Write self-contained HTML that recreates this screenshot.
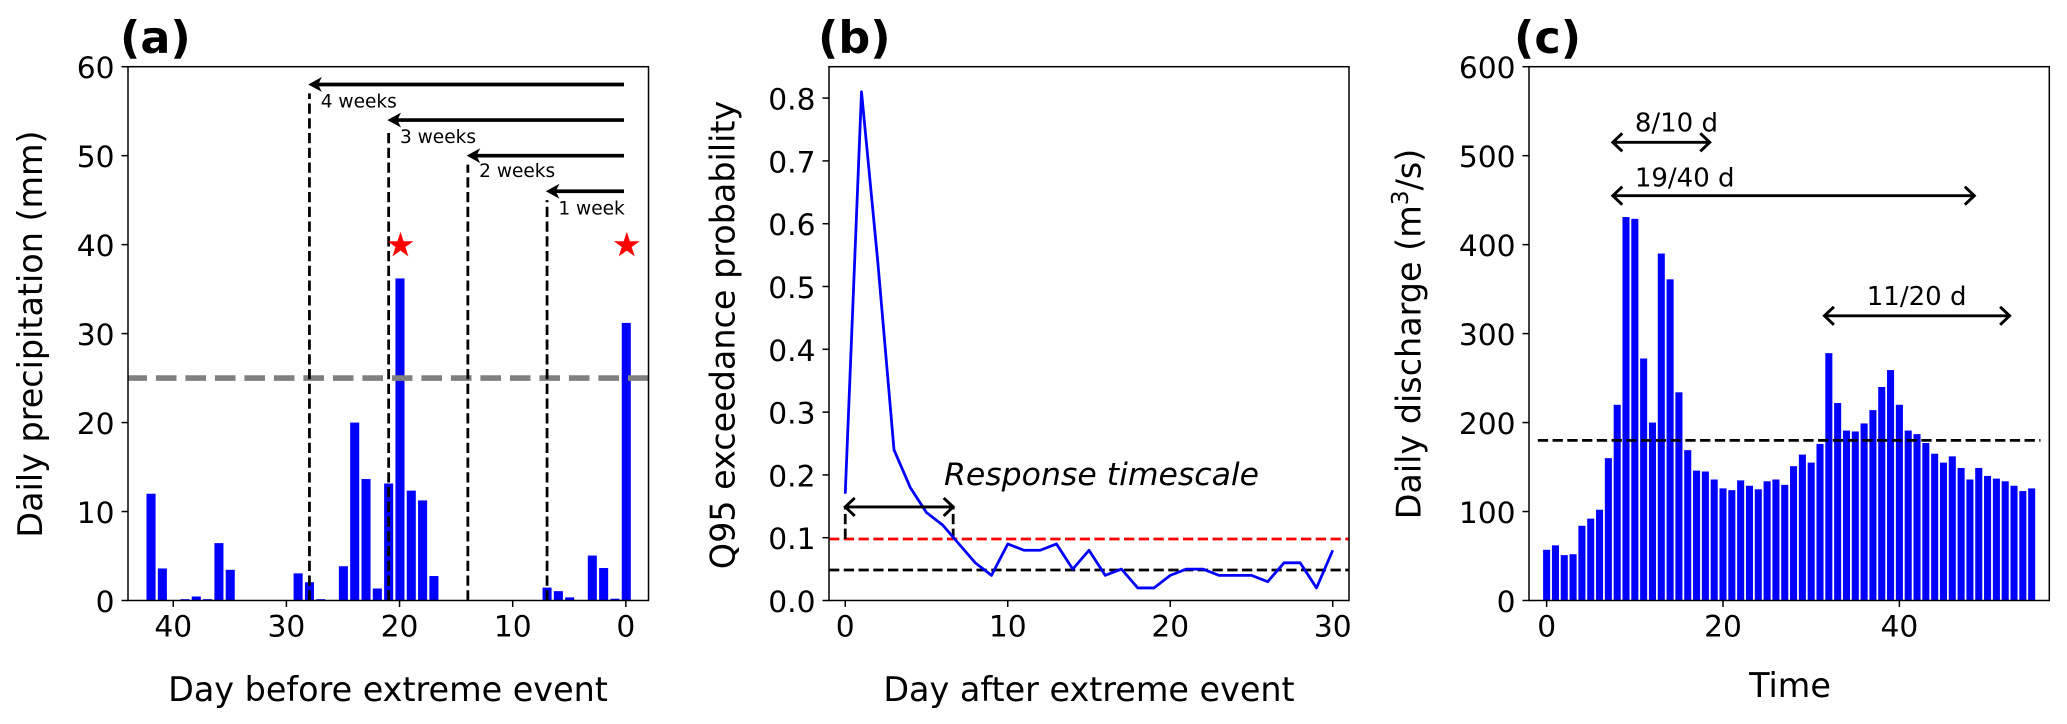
<!DOCTYPE html>
<html lang="en">
<head>
<meta charset="utf-8">
<title>Precipitation, exceedance probability and discharge</title>
<style>
html,body{margin:0;padding:0;background:#fff;width:2067px;height:724px;overflow:hidden}
svg{display:block}
text{font-family:"DejaVu Sans","Liberation Sans",sans-serif;fill:#000}
.tick{font-size:29.7px}
.axis-title{font-size:33.4px;text-anchor:middle}
.panel-title{font-size:44.5px;font-weight:bold}
</style>
</head>
<body>
<svg id="fig" xmlns="http://www.w3.org/2000/svg" width="2067" height="724" viewBox="0 0 2067 724">
  <rect x="0" y="0" width="2067" height="724" fill="#fff"/>
  <g id="panel-a"></g>
  <g id="panel-b"></g>
  <g id="panel-c"></g>

  <text class="panel-title" x="120" y="53">(a)</text>
  <text class="panel-title" x="818" y="53">(b)</text>
  <text class="panel-title" x="1514" y="53">(c)</text>

  <text class="axis-title" x="388" y="701">Day before extreme event</text>
  <text class="axis-title" transform="translate(42 334) rotate(-90)">Daily precipitation (mm)</text>
  <text class="axis-title" x="1089" y="701">Day after extreme event</text>
  <text class="axis-title" transform="translate(734.3 335) rotate(-90)">Q95 exceedance probability</text>
  <text class="axis-title" x="1790" y="697">Time</text>
  <text class="axis-title" transform="translate(1420.7 334) rotate(-90)">Daily discharge (m<tspan font-size="23.4" dy="-12.5">3</tspan><tspan dy="12.5">/s)</tspan></text>
</svg>
<script>
// ---------- Panel (a) data ----------
const precipDays = [42,41,39,38,37,36,35,29,28,27,25,24,23,22,21,20,19,18,17,7,6,5,3,2,1,0];
const precipValues = [12,3.6,0.15,0.45,0.15,6.45,3.45,3.05,2.05,0.15,3.85,20,13.65,1.35,13.15,36.2,12.35,11.25,2.75,1.45,1.05,0.35,5.05,3.65,0.2,31.2];
const precipThreshold = [25];
const extremeDays = [20,0];
const extremeMarkerLevel = [40,40];
const windowDays = [28,21,14,7];
const windowLevels = [58,54,50,46];
const windowLabelLevels = [55.4,51.4,47.6,43.4];
const windowLabels = ["4 weeks","3 weeks","2 weeks","1 week"];
const aXTicks = [40,30,20,10,0];
const aYTicks = [0,10,20,30,40,50,60];

// ---------- Panel (b) data ----------
const exceedDays = [0,1,2,3,4,5,6,7,8,9,10,11,12,13,14,15,16,17,18,19,20,21,22,23,24,25,26,27,28,29,30];
const exceedValues = [0.17,0.81,0.54,0.24,0.18,0.14,0.12,0.09,0.06,0.04,0.09,0.08,0.08,0.09,0.05,0.08,0.04,0.05,0.02,0.02,0.04,0.05,0.05,0.04,0.04,0.04,0.03,0.06,0.06,0.02,0.08];
const redThreshold = [0.098];
const blackThreshold = [0.0485];
const responseSpan = [0,6.64];
const responseLevel = [0.149];
const bXTicks = [0,10,20,30];
const bYTicks = [0,0.1,0.2,0.3,0.4,0.5,0.6,0.7,0.8];

// ---------- Panel (c) data ----------
const dischargeValues = [57,62,51,52,84,92,102,160,220,431,429,272,200,390,361,234,169,146,145,136,126,124,135,129,125,134,136,130,151,164,155,176,278,222,191,190,199,214,240,259,220,191,187,177,165,155,162,149,136,149,140,137,134,129,123,126];
const dischargeThreshold = [180];
const thresholdSpan = [-1,56];
const spanStarts = [7.5,7.5,31.5];
const spanEnds = [18.5,48.5,52.5];
const spanLabels = ["8/10 d","19/40 d","11/20 d"];
const spanLevels = [515,455,320];
const spanLabelDays = [10,10,36.3];
const spanLabelLevels = [527,465.6,332];
const cXTicks = [0,20,40];
const cYTicks = [0,100,200,300,400,500,600];

// ---------- Axis functions ----------
const TOP = 66.7, BOTTOM = 600.5;
function linear(d0, d1, r0, r1){ return v => r0 + (v - d0) * (r1 - r0) / (d1 - d0); }
const ax = linear(44, -2, 128.4, 648.9);
const ay = linear(0, 60, BOTTOM, TOP);
const bx = linear(-1, 31, 829, 1349);
const by = linear(0, 0.85, BOTTOM, TOP);
const cx = linear(-2, 57, 1529, 2049.3);
const cy = linear(0, 600, BOTTOM, TOP);

const NS = 'http://www.w3.org/2000/svg';
const DASH = '10.3 4.45';
function make(tag, attrs, parent){
  const el = document.createElementNS(NS, tag);
  for (const k in attrs) el.setAttribute(k, attrs[k]);
  parent.appendChild(el);
  return el;
}
function hline(parent, x1, x2, y, color, w, dash){
  return make('line', {x1:x1, x2:x2, y1:y, y2:y, stroke:color, 'stroke-width':w, 'stroke-dasharray':dash}, parent);
}
function starPoints(x, y, r){
  const pts = [];
  for (let i = 0; i < 10; i++){
    const rad = i % 2 ? r * 0.382 : r;
    const t = -Math.PI / 2 + i * Math.PI / 5;
    pts.push((x + rad * Math.cos(t)).toFixed(1) + ',' + (y + rad * Math.sin(t)).toFixed(1));
  }
  return pts.join(' ');
}
function doubleArrow(parent, x1, x2, y){
  const d = 'M' + x1 + ' ' + y + 'L' + x2 + ' ' + y +
    'M' + (x1 + 9.5) + ' ' + (y - 9) + 'L' + x1 + ' ' + y + 'L' + (x1 + 9.5) + ' ' + (y + 9) +
    'M' + (x2 - 9.5) + ' ' + (y - 9) + 'L' + x2 + ' ' + y + 'L' + (x2 - 9.5) + ' ' + (y + 9);
  return make('path', {d:d, fill:'none', stroke:'#000', 'stroke-width':2.9}, parent);
}
function drawFrame(parent, left, right, xScale, yScale, xTicks, yTicks, yFormat){
  xTicks.forEach(v => {
    const x = xScale(v);
    const t = make('line', {x1:x, x2:x, y1:BOTTOM, y2:BOTTOM + 6.5, stroke:'#000', 'stroke-width':1.5}, parent);
    
    
    const l = make('text', {x:x, y:636.5, 'text-anchor':'middle', class:'tick'}, parent);
    l.textContent = String(v);
    
    
  });
  yTicks.forEach(v => {
    const y = yScale(v);
    const t = make('line', {x1:left - 6.5, x2:left, y1:y, y2:y, stroke:'#000', 'stroke-width':1.5}, parent);
    
    
    const l = make('text', {x:left - 13.5, y:y + 11.5, 'text-anchor':'end', class:'tick'}, parent);
    l.textContent = yFormat(v);
    
    
  });
  const box = make('rect', {x:left, y:TOP, width:right - left, height:BOTTOM - TOP, fill:'none', stroke:'#000', 'stroke-width':1.5}, parent);
  
  
}

// ---------- Panel (a) ----------
const gA = document.getElementById('panel-a');
precipDays.forEach((d, i) => {
  const w = Math.abs(ax(0.8) - ax(0));
  const top = ay(precipValues[i]);
  const bar = make('rect', {x:ax(d) - w / 2, y:top, width:w, height:ay(0) - top, fill:'#0000ff'}, gA);
  
  
});
const greyLine = hline(gA, 648.5, 128, ay(precipThreshold[0]), '#808080', 5.56, '20.6 8.9');


windowDays.forEach((d, i) => {
  const x = ax(d);
  const y = ay(windowLevels[i]);
  const drop = make('line', {x1:x, x2:x, y1:ay(0), y2:ay(windowLevels[i] - 1), stroke:'#000', 'stroke-width':2.78, 'stroke-dasharray':DASH}, gA);
  
  
  const shaft = make('line', {x1:ax(0.2), x2:x + 8, y1:y, y2:y, stroke:'#000', 'stroke-width':3.7}, gA);
  
  
  const head = make('polygon', {points:x + ',' + y + ' ' + (x + 11) + ',' + (y - 6) + ' ' + (x + 8) + ',' + y + ' ' + (x + 11) + ',' + (y + 6), fill:'#000', stroke:'#000', 'stroke-width':1.2}, gA);
  
  
  const label = make('text', {x:ax(d - 1), y:ay(windowLabelLevels[i]), 'font-size':18.55}, gA);
  label.textContent = windowLabels[i];
  
  
});
extremeDays.forEach((d, i) => {
  const star = make('polygon', {points:starPoints(ax(d) + 0.5, ay(extremeMarkerLevel[i]) + 0.8, 12), fill:'#ff0000', stroke:'#ff0000', 'stroke-width':1}, gA);
  
  
});
drawFrame(gA, 128, 648.5, linear(44, -2, 128, 648.5), ay, aXTicks, aYTicks, v => String(v));

// ---------- Panel (b) ----------
const gB = document.getElementById('panel-b');
const redLine = hline(gB, 829, 1349, by(redThreshold[0]), '#ff0000', 2.78, DASH);


const blackLine = hline(gB, 829, 1349, by(blackThreshold[0]), '#000', 2.78, DASH);


responseSpan.forEach(d => {
  const guide = make('line', {x1:bx(d), x2:bx(d), y1:by(redThreshold[0]), y2:by(responseLevel[0]), stroke:'#000', 'stroke-width':2.78, 'stroke-dasharray':DASH}, gB);
  
  
});
const exceedLine = make('polyline', {points:exceedDays.map((d, i) => bx(d).toFixed(2) + ',' + by(exceedValues[i]).toFixed(2)).join(' '), fill:'none', stroke:'#0000ff', 'stroke-width':2.78, 'stroke-linejoin':'round'}, gB);


const responseArrow = doubleArrow(gB, bx(responseSpan[0]), bx(responseSpan[1]), by(responseLevel[0]));


const responseText = make('text', {x:944, y:484.8, 'font-size':31.5, 'font-style':'italic'}, gB);
responseText.textContent = 'Response timescale';


drawFrame(gB, 829, 1349, bx, by, bXTicks, bYTicks, v => v.toFixed(1));

// ---------- Panel (c) ----------
const gC = document.getElementById('panel-c');
dischargeValues.forEach((v, i) => {
  const w = cx(0.8) - cx(0);
  const top = cy(v);
  const bar = make('rect', {x:cx(i) - w / 2, y:top, width:w, height:cy(0) - top, fill:'#0000ff'}, gC);
  
  
});
const cLine = hline(gC, cx(thresholdSpan[0]), cx(thresholdSpan[1]), cy(dischargeThreshold[0]), '#000', 2.78, DASH);


spanLevels.forEach((level, i) => {
  const arrow = doubleArrow(gC, cx(spanStarts[i]), cx(spanEnds[i]), cy(level));
  
  
  const label = make('text', {x:cx(spanLabelDays[i]), y:cy(spanLabelLevels[i]), 'font-size':26}, gC);
  label.textContent = spanLabels[i];
  
  
});
drawFrame(gC, 1529, 2049.3, cx, cy, cXTicks, cYTicks, v => String(v));
</script>
</body>
</html>
